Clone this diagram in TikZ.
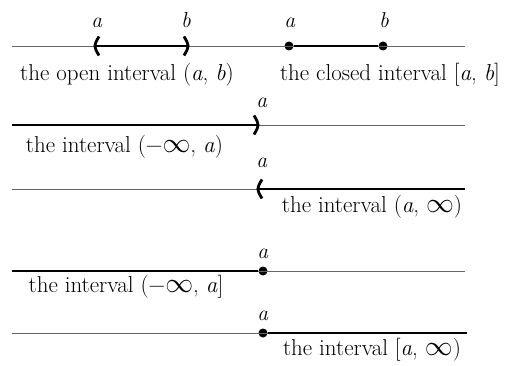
\documentclass[tikz,border=0pt]{standalone}
\usepackage{fontspec}
\setmainfont{Latin Modern Roman}
\newcommand{\vi}[1]{\textit{#1}}
\newcommand{\infsym}{\scalebox{1.12}{$\infty$}}
\begin{document}
\begin{tikzpicture}[x=1pt,y=-1pt,
  axis/.style={draw=black!60,line width=0.9pt},
  seg/.style={draw=black,line width=2.3pt},
  brk/.style={draw=black,line width=2.8pt},
  lbl/.style={font=\fontsize{21.5}{24}\selectfont,inner sep=0pt,anchor=base},
  captext/.style={font=\fontsize{23}{27}\selectfont,inner sep=0pt,anchor=base},
  pt/.style={circle,fill=black,inner sep=0pt,minimum size=9pt}]
\useasboundingbox (0,0) rectangle (511,366);
% row 1
\coordinate (l1) at (12,46); \coordinate (r1) at (465,46);
\coordinate (oa) at (96,46); \coordinate (ob) at (187,46);
\node[pt] (ca) at (289,46) {}; \node[pt] (cb) at (383,46) {};
\draw[axis] (l1) -- (r1);
\draw[seg] (oa) -- (ob);
\draw[seg] (ca) -- (cb);
\draw[brk] ([xshift=3pt,yshift=-9.5pt]oa) .. controls ([xshift=-2.5pt]oa) .. ([xshift=3pt,yshift=9.5pt]oa);
\draw[brk] ([xshift=-3pt,yshift=-9.5pt]ob) .. controls ([xshift=2.5pt]ob) .. ([xshift=-3pt,yshift=9.5pt]ob);
\node[lbl] (ta1) at (97,28) {\vi{a}};
\node[lbl] (tb1) at (186,28) {\vi{b}};
\node[lbl] (ta2) at (290,28) {\vi{a}};
\node[lbl] (tb2) at (384,28) {\vi{b}};
\node[captext] (c1) at (127,81) {the open interval (\vi{a}, \vi{b})};
\node[captext] (c2) at (390,81) {the closed interval [\vi{a}, \vi{b}]};
% row 2
\coordinate (l2) at (12,125); \coordinate (r2) at (465,125); \coordinate (p2) at (257,125);
\draw[axis] (l2) -- (r2);
\draw[seg] (l2) -- (p2);
\draw[brk] ([xshift=-3pt,yshift=-9.5pt]p2) .. controls ([xshift=2.5pt]p2) .. ([xshift=-3pt,yshift=9.5pt]p2);
\node[lbl] (ta3) at (262,108) {\vi{a}};
\node[captext] (c3) at (124.5,153) {the interval (−\infsym, \vi{a})};
% row 3
\coordinate (l3) at (12,189); \coordinate (r3) at (465,189); \coordinate (p3) at (259,189);
\draw[axis] (l3) -- (r3);
\draw[seg] (p3) -- (r3);
\draw[brk] ([xshift=3pt,yshift=-9.5pt]p3) .. controls ([xshift=-2.5pt]p3) .. ([xshift=3pt,yshift=9.5pt]p3);
\node[lbl] (ta4) at (262,168) {\vi{a}};
\node[captext] (c4) at (372,212) {the interval (\vi{a}, \infsym)};
% row 4
\coordinate (l4) at (12,271); \coordinate (r4) at (465,271);
\node[pt] (p4) at (263,271) {};
\draw[axis] (l4) -- (r4);
\draw[seg] (l4) -- (p4);
\node[lbl] (ta5) at (263,258) {\vi{a}};
\node[captext] (c5) at (126,292) {the interval (−\infsym, \vi{a}]};
% row 5
\coordinate (l5) at (12,333); \coordinate (r5) at (467,333);
\node[pt] (p5) at (263,333) {};
\draw[axis] (l5) -- (r5);
\draw[seg] (p5) -- (r5);
\node[lbl] (ta6) at (263,320) {\vi{a}};
\node[captext] (c6) at (372,355) {the interval [\vi{a}, \infsym)};
\end{tikzpicture}
\end{document}
